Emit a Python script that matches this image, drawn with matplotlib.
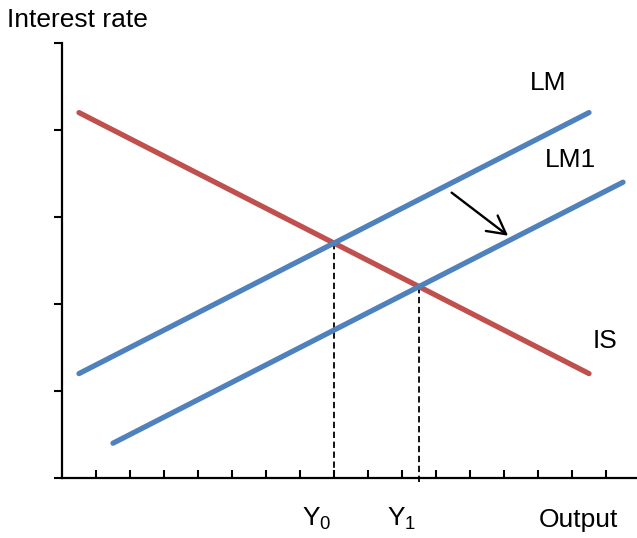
import matplotlib
matplotlib.use("Agg")
import matplotlib.pyplot as plt
import numpy as np

plt.rcParams['font.family'] = ['Liberation Sans', 'DejaVu Sans']
plt.rcParams['mathtext.fontset'] = 'custom'
plt.rcParams['mathtext.rm'] = 'Liberation Sans'
plt.rcParams['mathtext.it'] = 'Liberation Sans:italic'

# Data (axis units: x in tick steps, y in tick steps)
is_x = [0.5, 15.5]
is_y = [4.2, 1.2]
lm_x = [0.5, 15.5]
lm_y = [1.2, 4.2]
lm1_x = [1.5, 16.5]
lm1_y = [0.4, 3.4]
eq_x = [8.0, 10.5]       # Y0, Y1
eq_y = [2.7, 2.2]        # equilibrium interest rates
eq_labels = [r'$\mathrm{Y}_{0}$', r'$\mathrm{Y}_{1}$']
arrow_from = (11.46, 3.28)
arrow_to = (13.12, 2.785)

RED = '#C0504D'
BLUE = '#4F81BD'

fig = plt.figure(figsize=(6.37, 5.38), dpi=100)
ax = fig.add_axes([62/637, 60/538, 1 - 62/637, 435/538])
ax.set_xlim(0, 575/34)
ax.set_ylim(0, 5)

ax.plot(is_x, is_y, color=RED, lw=3.8, solid_capstyle='round', zorder=3)
ax.plot(lm_x, lm_y, color=BLUE, lw=3.8, solid_capstyle='round', zorder=3)
ax.plot(lm1_x, lm1_y, color=BLUE, lw=3.8, solid_capstyle='round', zorder=3)

ax.plot([eq_x[0], eq_x[0]], [eq_y[0], 0], color='black', lw=1.3,
        linestyle=(0, (3.5, 2)), zorder=2, clip_on=False)
ax.plot([eq_x[1], eq_x[1]], [eq_y[1], -0.06], color='black', lw=1.3,
        linestyle=(0, (3.5, 2)), zorder=2, clip_on=False)

ax.annotate('', xy=arrow_to, xytext=arrow_from,
            arrowprops=dict(arrowstyle='->,head_length=1.3,head_width=0.7',
                            color='black', lw=1.7, shrinkA=0, shrinkB=0))

fs = 19
ax.text(14.3, 4.54, 'LM', fontsize=fs, ha='center', va='center')
ax.text(14.94, 3.66, 'LM1', fontsize=fs, ha='center', va='center')
ax.text(15.97, 1.58, 'IS', fontsize=fs, ha='center', va='center')
for xv, lab in zip(eq_x, eq_labels):
    ax.text(xv - 0.5, -0.47, lab, fontsize=fs, ha='center', va='center', clip_on=False)
ax.text(15.2, -0.48, 'Output', fontsize=fs, ha='center', va='center', clip_on=False)
fig.text(7/637, 1 - 20/538, 'Interest rate', fontsize=fs, ha='left', va='center')

for s in ['top', 'right']:
    ax.spines[s].set_visible(False)
for s in ['left', 'bottom']:
    ax.spines[s].set_linewidth(1.6)
    ax.spines[s].set_zorder(4)

ax.set_xticks(np.arange(1, 17))
ax.set_yticks(np.arange(0, 6))
ax.tick_params(axis='x', direction='in', length=6, width=1.5, labelbottom=False)
ax.tick_params(axis='y', direction='out', length=6, width=1.5, labelleft=False)

fig.savefig('out.png', dpi=100)
